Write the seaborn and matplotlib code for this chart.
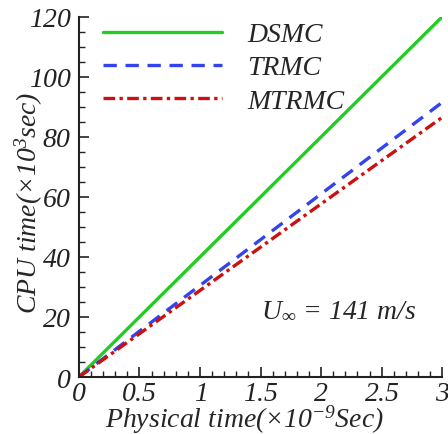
import matplotlib
matplotlib.use("Agg")
import matplotlib.pyplot as plt
import seaborn as sns
import pandas as pd
from matplotlib.ticker import MultipleLocator

# data
physical_time = [0.0, 3.0]
dsmc = [0.0, 120.0]
trmc = [0.0, 91.5]
mtrmc = [0.0, 86.5]
series_names = ["DSMC", "TRMC", "MTRMC"]
x_ticks = [0, 0.5, 1, 1.5, 2, 2.5, 3]
x_tick_labels = ["0", "0.5", "1", "1.5", "2", "2.5", "3"]
y_ticks = [0, 20, 40, 60, 80, 100, 120]
y_tick_labels = ["0", "20", "40", "60", "80", "100", "120"]

sns.set_style("ticks")
plt.rcParams['font.family'] = ['Liberation Serif', 'DejaVu Serif']
plt.rcParams['font.style'] = 'italic'
plt.rcParams['mathtext.fontset'] = 'custom'
plt.rcParams['mathtext.rm'] = 'Liberation Serif:italic'
plt.rcParams['mathtext.it'] = 'Liberation Serif:italic'

df = pd.DataFrame({
    "t": physical_time * 3,
    "cpu": dsmc + trmc + mtrmc,
    "method": [series_names[0]] * 2 + [series_names[1]] * 2 + [series_names[2]] * 2,
})

fig = plt.figure(figsize=(4.48, 4.35), dpi=100)
ax = fig.add_axes([0.176, 0.131, 0.811, 0.828])

colors = {"DSMC": "#22cc22", "TRMC": "#3344ee", "MTRMC": "#cc1111"}
for name in series_names:
    sub = df[df["method"] == name]
    sns.lineplot(data=sub, x="t", y="cpu", ax=ax, color=colors[name], lw=2.4, label=name)
lines = ax.get_lines()
lines[1].set_dashes((4, 2.6))
lines[2].set_dashes((3.5, 1.3, 1, 1.3))

ax.set_xlim(0, 3)
ax.set_ylim(0, 120)
ax.xaxis.set_minor_locator(MultipleLocator(0.1))
ax.yaxis.set_minor_locator(MultipleLocator(5))
ax.tick_params(which='major', direction='in', length=7, width=1.2, pad=5, colors='#222222',
               labelsize=20)
ax.tick_params(axis='x', which='major', pad=3)
ax.tick_params(which='minor', direction='in', length=4, width=1.0, colors='#222222')
ax.set_xticks(x_ticks, [f"${s}$" for s in x_tick_labels])
ax.set_yticks(y_ticks, [f"${s}$" for s in y_tick_labels])
sns.despine(ax=ax)
for s in ['left', 'bottom']:
    ax.spines[s].set_linewidth(1.5)
    ax.spines[s].set_color('#222222')

ax.set_xlabel(r'Physical time(×10$^{-9}$Sec)', fontsize=20, style='italic')
ax.xaxis.set_label_coords(0.456, -0.072)
ax.set_ylabel(r'CPU time(×10$^{3}$sec)', fontsize=20, style='italic')
ax.yaxis.set_label_coords(-0.092, 0.486)

leg = ax.legend(loc='upper left', bbox_to_anchor=(0.035, 1.017), frameon=False,
                fontsize=20, handlelength=4.3, handletextpad=0.9, labelspacing=0.28,
                borderaxespad=0.0)
for t in leg.get_texts():
    t.set_fontstyle('italic')

ax.text(0.50, 0.168, r'$U_{\infty}$ = 141 m/s', transform=ax.transAxes, fontsize=20, style='italic')

fig.savefig("out.png", dpi=100)
